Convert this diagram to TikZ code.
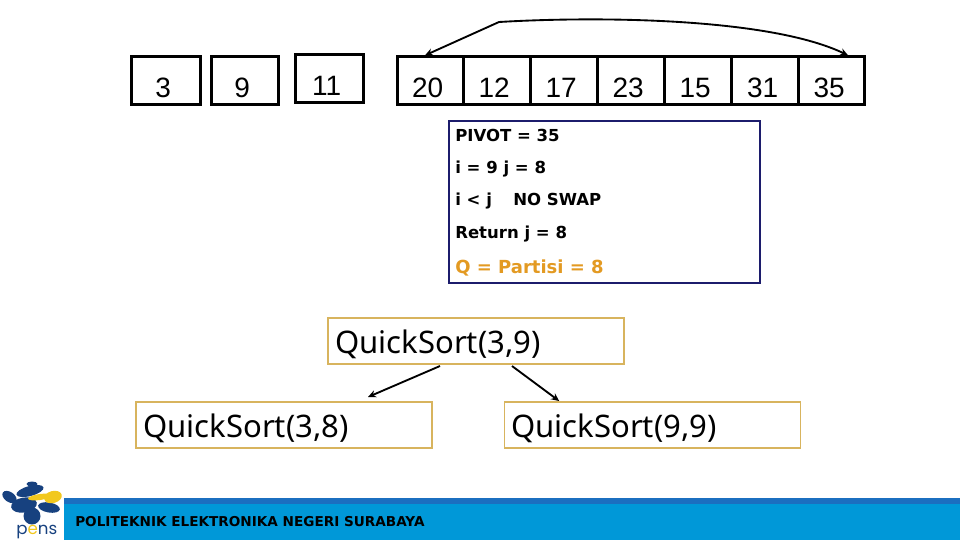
\documentclass[tikz,border=0pt]{standalone}
\usepackage{fontspec}
\setmainfont{Liberation Sans}
\newfontfamily\qsfont{Noto Sans}
\newfontfamily\boxfont{DejaVu Sans}
\newfontfamily\logofont{Poppins}
\definecolor{navyline}{HTML}{1C1C6C}
\definecolor{goldline}{HTML}{D8B45E}
\definecolor{orangetext}{HTML}{E39A22}
\definecolor{bandblue}{HTML}{0098D8}
\definecolor{banddark}{HTML}{1B6FC0}
\definecolor{logonavy}{HTML}{17417F}
\definecolor{logoyellow}{HTML}{F2C81E}
\newcommand{\cellnum}[1]{#1\kern3.5pt}
\usetikzlibrary{arrows.meta}
\tikzset{
  x=0.75pt,y=-0.75pt,
  cellbox/.style={draw=black,line width=2.25pt,inner sep=0pt,outer sep=0pt,minimum height=36pt,
    text height=30.75pt,text depth=5.25pt,font=\fontsize{21}{21}\selectfont},
  link/.style={draw=black,line width=1.4pt,-{Stealth[length=6pt,width=5.5pt]}},
  qsbox/.style={draw=goldline,line width=0.8pt,inner sep=0pt,outer sep=0pt,minimum width=222pt,minimum height=34.5pt},
  qstext/.style={anchor=base west,inner sep=0pt,font=\qsfont\fontsize{23.3}{25}\selectfont},
  stepline/.style={anchor=base west,inner sep=0pt,font=\boxfont\bfseries\fontsize{12.4}{14}\selectfont},
  blob/.style={fill=logonavy,draw=none},
}
\begin{document}
\begin{tikzpicture}
\useasboundingbox (0,0) rectangle (960,540);
\fill[white] (0,0) rectangle (960,540);
% single cells
\node[cellbox,minimum width=51.75pt] (c3) at (165.5,80) {\cellnum{3}};
\node[cellbox,minimum width=50.25pt] (c9) at (244.5,80) {\cellnum{9}};
\node[cellbox,minimum width=51pt] (c11) at (329,78) {\cellnum{11}};
% array
\node[cellbox,minimum width=49.5pt] (c20) at (430,80) {\cellnum{20}};
\node[cellbox,minimum width=50.25pt] (c12) at (496.5,80) {\cellnum{12}};
\node[cellbox,minimum width=50.25pt] (c17) at (563.5,80) {\cellnum{17}};
\node[cellbox,minimum width=50.25pt] (c23) at (630.5,80) {\cellnum{23}};
\node[cellbox,minimum width=50.25pt] (c15) at (697.5,80) {\cellnum{15}};
\node[cellbox,minimum width=50.25pt] (c31) at (765,80) {\cellnum{31}};
\node[cellbox,minimum width=49.5pt] (c35) at (831.5,80) {\cellnum{35}};
% curved arrow
\coordinate (left end) at ([xshift=-3.75pt,yshift=0.5pt]c20.north);
\coordinate (right end) at ([xshift=12.4pt,yshift=0.5pt]c35.north);
\coordinate (bend) at (499,22);
\draw[link,{Stealth[length=6pt,width=5.5pt]}-{Stealth[length=6pt,width=5.5pt]}] (left end) -- (bend)
  .. controls (600,16) and (770,18) .. (right end);
% step box
\node[draw=navyline,line width=0.8pt,inner sep=0pt,minimum width=233.25pt,minimum height=121.5pt] (stepbox) at (604.5,202) {};
\node[stepline] (l1) at (455,141) {PIVOT = 35};
\node[stepline] (l2) at (455,173) {i = 9 j = 8};
\node[stepline] (l3) at (455,205) {i < j};
\node[stepline] (l3b) at (513,205) {NO SWAP};
\node[stepline] (l4) at (455,238) {Return j = 8};
\node[stepline,text=orangetext,font=\boxfont\bfseries\fontsize{13.5}{15}\selectfont] (l5) at (455,273) {Q = Partisi = 8};
% quicksort boxes
\node[qsbox] (q39) at (476,341) {};
\node[qstext] (t39) at (335,353) {QuickSort(3,9)};
\node[qsbox] (q38) at (284,425) {};
\node[qstext] (t38) at (143,437) {QuickSort(3,8)};
\node[qsbox] (q99) at (652.5,425) {};
\node[qstext] (t99) at (511,437) {QuickSort(9,9)};
\coordinate (from left) at ([xshift=-27pt,yshift=-1.5pt]q39.south);
\coordinate (to left) at ([xshift=63pt,yshift=3.75pt]q38.north);
\coordinate (from right) at ([xshift=27pt,yshift=-1.5pt]q39.south);
\coordinate (to right) at ([xshift=-70pt,yshift=0.75pt]q99.north);
\draw[link] (from left) -- (to left);
\draw[link] (from right) -- (to right);
% footer
\fill[bandblue] (64,498) rectangle (960,540);
\fill[banddark] (64,498) rectangle (960,504);
\node[anchor=base west,inner sep=0pt,font=\boxfont\bfseries\fontsize{10.2}{11}\selectfont] (foot) at (75,526) {POLITEKNIK ELEKTRONIKA NEGERI SURABAYA};
% logo
\fill[blob] (32,484) ellipse (5.5 and 2.5);
\fill[blob,rotate around={15:(30,491)}] (30,491) ellipse (14 and 5);
\fill[blob,rotate around={-35:(9.5,497)}] (9.5,497) ellipse (8 and 5);
\fill[blob,rotate around={10:(24,505)}] (24,505) ellipse (13 and 7.5);
\fill[blob,rotate around={-10:(49,507.5)}] (49,507.5) ellipse (11 and 5);
\fill[blob] (32,516) circle (8.5);
\fill[logoyellow,rotate around={8:(40,497)}] (40,497) ellipse (12 and 3);
\fill[logoyellow,rotate around={15:(53,497)}] (53,497) ellipse (9 and 6);
\node[anchor=base west,inner sep=0pt,text=logonavy,font=\logofont\fontsize{12.5}{13}\selectfont] (pens) at (16,534.5) {p\textcolor{logoyellow}{e}ns};
\end{tikzpicture}
\end{document}
